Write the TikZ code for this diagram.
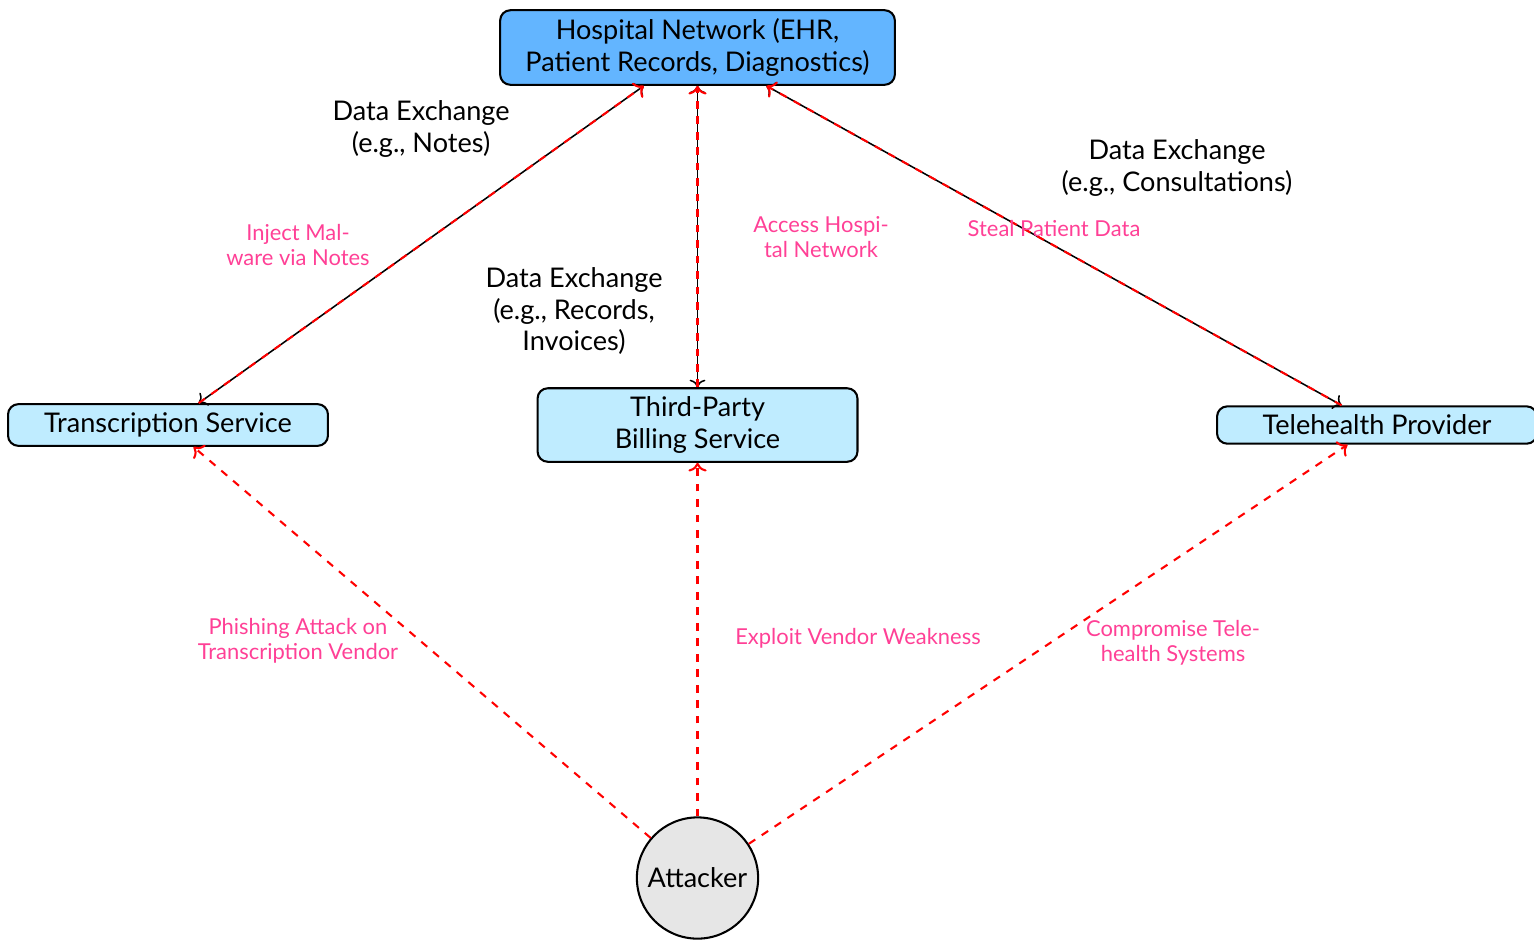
\documentclass[tikz,border=0pt]{standalone}
\usepackage{fontspec}
\setmainfont{Lato}
\usetikzlibrary{arrows.meta}
\definecolor{hospblue}{RGB}{99,181,255}
\definecolor{svccyan}{RGB}{191,236,255}
\definecolor{attpink}{RGB}{255,64,150}
\definecolor{atkgray}{RGB}{230,230,230}
\tikzset{
  every node/.style={font=\fontsize{10.5}{12.2}\selectfont},
  hospbox/.style={draw, thick, rounded corners=4pt, fill=hospblue, align=center, minimum width=153pt, inner sep=3.33pt},
  svcbox/.style={draw, thick, rounded corners=4pt, fill=svccyan, align=center, minimum width=124pt},
  atkcircle/.style={draw, thick, circle, fill=atkgray, minimum size=47pt, inner sep=1pt},
  dataflow/.style={<->, black, semithick},
  attackflow/.style={->, red, dashed, thick},
  datalbl/.style={align=center, text=black},
  atklbl/.style={align=center, text=attpink, font=\fontsize{8.5}{9.8}\selectfont},
}
\begin{document}
\begin{tikzpicture}[x=0.3876pt,y=-0.3876pt]
\useasboundingbox (0,0) rectangle (1534,940);
\node[hospbox] (hosp) at (697.5,47.5) {Hospital Network (EHR,\\Patient Records, Diagnostics)};
\node[svcbox] (trans) at (168,425) {Transcription Service};
\node[svcbox] (bill) at (697.5,425) {Third-Party\\Billing Service};
\node[svcbox] (tele) at (1377,425) {Telehealth Provider};
\node[atkcircle] (atk) at (697.5,878) {Attacker};

\draw[dataflow] (trans) -- (hosp);
\draw[dataflow] (bill) -- (hosp);
\draw[dataflow] (tele) -- (hosp);
\draw[attackflow] (trans) -- (hosp);
\draw[attackflow] (bill) -- (hosp);
\draw[attackflow] (tele) -- (hosp);
\draw[attackflow] (atk) -- (trans);
\draw[attackflow] (atk) -- (bill);
\draw[attackflow] (atk) -- (tele);

\node[datalbl] (l1) at (421,129) {Data Exchange\\(e.g., Notes)};
\node[datalbl] (l2) at (574,311) {Data Exchange\\(e.g., Records,\\Invoices)};
\node[datalbl] (l3) at (1177,168) {Data Exchange\\(e.g., Consultations)};
\node[atklbl] (a1) at (298,245) {Inject Mal-\\ware via Notes};
\node[atklbl] (a2) at (821,237) {Access Hospi-\\tal Network};
\node[atklbl] (a3) at (1054,228) {Steal Patient Data};
\node[atklbl] (a4) at (298,641) {Phishing Attack on\\Transcription Vendor};
\node[atklbl] (a5) at (858,638) {Exploit Vendor Weakness};
\node[atklbl] (a6) at (1173,643) {Compromise Tele-\\health Systems};
\end{tikzpicture}
\end{document}
